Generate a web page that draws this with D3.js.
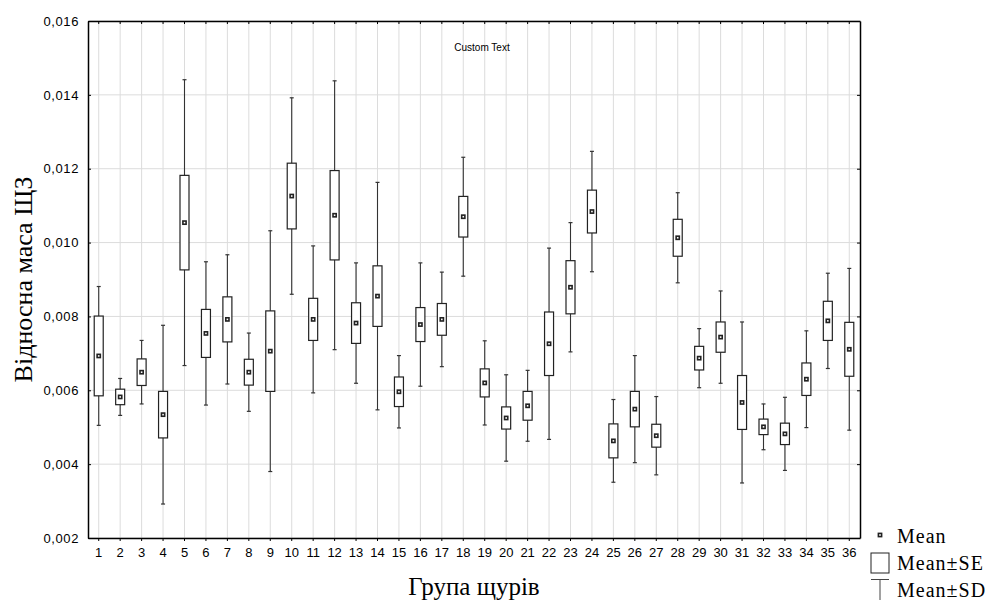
<!DOCTYPE html>
<html>
<head>
<meta charset="utf-8">
<script src="https://cdn.jsdelivr.net/npm/d3@7"></script>
<style>
  body { margin: 0; background: #fff; }
  svg { display: block; }
</style>
</head>
<body>
<svg id="chart" width="994" height="600"></svg>
<script>
// group labels and values
const groups = d3.range(1, 37).map(String);

const means = [0.00693, 0.00582, 0.00649, 0.00534, 0.01054, 0.00754, 0.00792, 0.00649, 0.00706, 0.01126,
               0.00792, 0.01074, 0.00782, 0.00855, 0.00596, 0.00778, 0.00792, 0.01070, 0.00620, 0.00525,
               0.00558, 0.00726, 0.00879, 0.01084, 0.00463, 0.00549, 0.00477, 0.01013, 0.00687, 0.00744,
               0.00567, 0.00501, 0.00482, 0.00630, 0.00788, 0.00711];

const se = [0.00108, 0.00021, 0.00036, 0.00063, 0.00128, 0.00065, 0.00061, 0.00035, 0.00109, 0.00089,
            0.00057, 0.00121, 0.00055, 0.00082, 0.00040, 0.00046, 0.00043, 0.00055, 0.00038, 0.00030,
            0.00039, 0.00086, 0.00072, 0.00058, 0.00046, 0.00048, 0.00031, 0.00050, 0.00032, 0.00041,
            0.00073, 0.00021, 0.00029, 0.00044, 0.00053, 0.00073];

const sd = [0.00188, 0.00050, 0.00086, 0.00242, 0.00387, 0.00194, 0.00175, 0.00106, 0.00326, 0.00266,
            0.00199, 0.00364, 0.00163, 0.00308, 0.00098, 0.00167, 0.00128, 0.00161, 0.00114, 0.00117,
            0.00096, 0.00259, 0.00175, 0.00163, 0.00112, 0.00145, 0.00106, 0.00122, 0.00080, 0.00125,
            0.00218, 0.00062, 0.00099, 0.00131, 0.00129, 0.00219];

const yTicks = [0.002, 0.004, 0.006, 0.008, 0.010, 0.012, 0.014, 0.016];

const margin = {top: 21, left: 88};
const width = 772, height = 517;

const svg = d3.select("#chart");
const g = svg.append("g").attr("transform", `translate(${margin.left},${margin.top})`);

const x = d3.scaleBand().domain(groups).range([0, width]);
const y = d3.scaleLinear().domain([0.002, 0.016]).range([height, 0]);

const fmt = d => d3.format(".3f")(d).replace(".", ",");

// grid
g.append("g").selectAll("line.hg")
    .data(yTicks)
    .enter().append("line")
    .attr("x1", 0).attr("x2", width)
    .attr("y1", d => y(d)).attr("y2", d => y(d))
    .attr("stroke", "#dcdcdc");

g.append("g").selectAll("line.vg")
    .data(groups)
    .enter().append("line")
    .attr("x1", d => x(d) + x.bandwidth() / 2).attr("x2", d => x(d) + x.bandwidth() / 2)
    .attr("y1", 0).attr("y2", height)
    .attr("stroke", "#dcdcdc");

// axes
const yAxis = g.append("g")
    .call(d3.axisLeft(y).tickValues(yTicks).tickFormat(fmt).tickSizeInner(-3).tickSizeOuter(0).tickPadding(9));
yAxis.selectAll("text")
    .style("font-family", "Liberation Sans, Arial, sans-serif")
    .style("font-size", "13px")
    .style("letter-spacing", "0.6px")
    .attr("fill", "#000");

g.append("g")
    .attr("transform", `translate(${width},0)`)
    .call(d3.axisRight(y).tickValues(yTicks).tickFormat("").tickSizeInner(-3).tickSizeOuter(0));

const xAxis = g.append("g")
    .attr("transform", `translate(0,${height})`)
    .call(d3.axisBottom(x).tickSizeInner(3).tickSizeOuter(0).tickPadding(7));
xAxis.selectAll("text")
    .style("font-family", "Liberation Sans, Arial, sans-serif")
    .style("font-size", "13px")
    .attr("fill", "#000");

g.append("g")
    .call(d3.axisTop(x).tickFormat("").tickSizeInner(-3).tickSizeOuter(0));

g.selectAll(".domain").attr("stroke", "#000").attr("stroke-width", 1.5);
g.selectAll(".tick line").attr("stroke", "#000");

// boxes
const boxW = 9, capW = 4;
const items = groups.map((k, i) => ({k, m: means[i], se: se[i], sd: sd[i]}));

const box = g.append("g").selectAll("g")
    .data(items)
    .enter().append("g")
    .attr("transform", d => `translate(${x(d.k) + x.bandwidth() / 2},0)`);

box.append("line")
    .attr("x1", 0).attr("x2", 0)
    .attr("y1", d => y(d.m + d.sd)).attr("y2", d => y(d.m - d.sd))
    .attr("stroke", "#333").attr("stroke-width", 1.1);

box.append("line")
    .attr("x1", -capW / 2).attr("x2", capW / 2)
    .attr("y1", d => y(d.m + d.sd)).attr("y2", d => y(d.m + d.sd))
    .attr("stroke", "#333").attr("stroke-width", 1.2);

box.append("line")
    .attr("x1", -capW / 2).attr("x2", capW / 2)
    .attr("y1", d => y(d.m - d.sd)).attr("y2", d => y(d.m - d.sd))
    .attr("stroke", "#333").attr("stroke-width", 1.2);

box.append("rect")
    .attr("x", -boxW / 2).attr("width", boxW)
    .attr("y", d => y(d.m + d.se))
    .attr("height", d => y(d.m - d.se) - y(d.m + d.se))
    .attr("fill", "#fff").attr("stroke", "#222").attr("stroke-width", 1.2);

box.append("rect")
    .attr("x", -1.6).attr("width", 3.2)
    .attr("y", d => y(d.m) - 1.6).attr("height", 3.2)
    .attr("fill", "#fff").attr("stroke", "#222").attr("stroke-width", 1.6);

// custom text
svg.append("text")
    .attr("x", 482).attr("y", 51)
    .attr("text-anchor", "middle")
    .style("font-family", "Liberation Sans, Arial, sans-serif")
    .style("font-size", "10px")
    .text("Custom Text");

// axis titles
svg.append("text")
    .attr("transform", `translate(32,${margin.top + height / 2}) rotate(-90)`)
    .attr("text-anchor", "middle")
    .style("font-family", "Liberation Serif, Times New Roman, serif")
    .style("font-size", "26px")
    .text("Відносна маса ЩЗ");

svg.append("text")
    .attr("x", margin.left + width / 2).attr("y", 595)
    .attr("text-anchor", "middle")
    .style("font-family", "Liberation Serif, Times New Roman, serif")
    .style("font-size", "25px")
    .text("Група щурів");

// legend
const legend = svg.append("g");
const lx = 880;
legend.append("rect")
    .attr("x", lx - 1.6).attr("y", 535 - 1.6).attr("width", 3.2).attr("height", 3.2)
    .attr("fill", "#fff").attr("stroke", "#222").attr("stroke-width", 1.6);
legend.append("rect")
    .attr("x", lx - 9).attr("y", 553).attr("width", 18).attr("height", 20)
    .attr("fill", "#fff").attr("stroke", "#222").attr("stroke-width", 1);
legend.append("line")
    .attr("x1", lx - 9).attr("x2", lx + 9).attr("y1", 579.5).attr("y2", 579.5)
    .attr("stroke", "#444").attr("stroke-width", 1);
legend.append("line")
    .attr("x1", lx).attr("x2", lx).attr("y1", 579.5).attr("y2", 600)
    .attr("stroke", "#444").attr("stroke-width", 1);

const legendLabels = ["Mean", "Mean±SE", "Mean±SD"];
legend.selectAll("text")
    .data(legendLabels)
    .enter().append("text")
    .attr("x", 897)
    .attr("y", (d, i) => 543 + i * 27)
    .style("font-family", "Liberation Serif, Times New Roman, serif")
    .style("font-size", "20px")
    .style("letter-spacing", "1px")
    .text(d => d);
</script>
</body>
</html>
